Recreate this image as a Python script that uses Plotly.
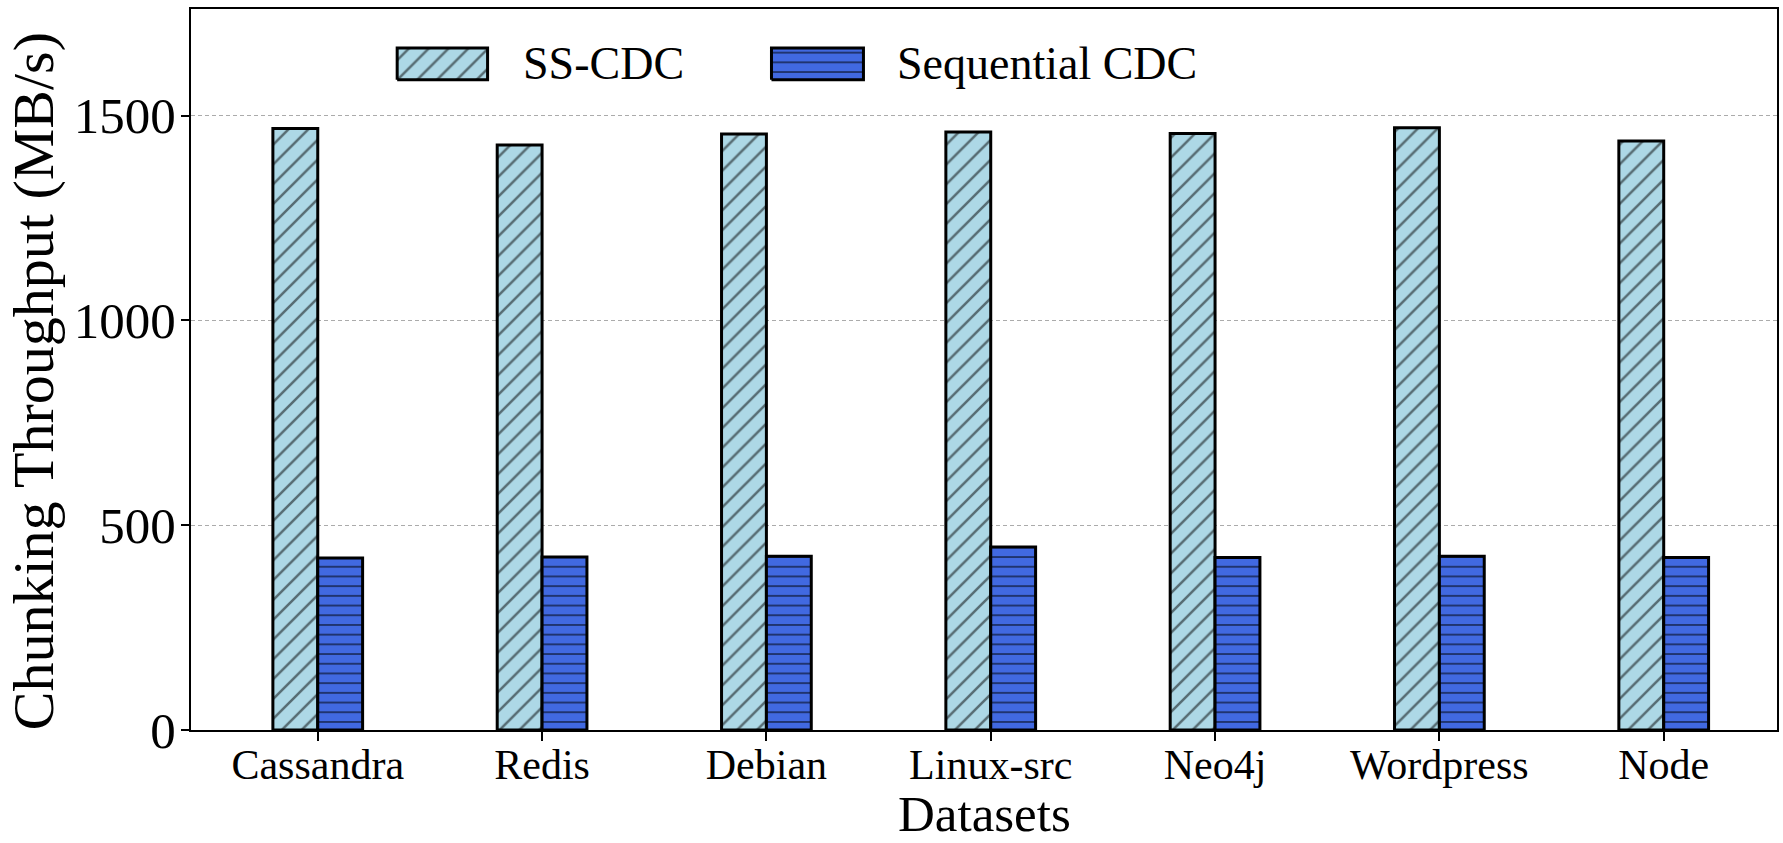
import plotly.graph_objects as go

# Chunking throughput per dataset (MB/s)
datasets = ["Cassandra", "Redis", "Debian", "Linux-src", "Neo4j", "Wordpress", "Node"]
ss_cdc = [1468, 1428, 1455, 1460, 1456, 1470, 1438]
seq_cdc = [420, 422, 424, 447, 421, 424, 421]
y_ticks = [0, 500, 1000, 1500]
series_names = ["SS-CDC", "Sequential CDC"]

FONT = "Liberation Serif"
LIGHT = "#ADD8E6"
ROYAL = "#4169E1"
SS_PATTERN = dict(shape="/", fgcolor="black", size=14, solidity=0.18)
SEQ_PATTERN = dict(shape="-", fgcolor="black", size=9.7, solidity=0.2)

fig = go.Figure()

fig.add_trace(go.Bar(
    x=datasets, y=ss_cdc, name=series_names[0],
    marker=dict(color=LIGHT, line=dict(color="black", width=3),
                pattern=dict(fillmode="overlay", **SS_PATTERN)),
    showlegend=False,
))
fig.add_trace(go.Bar(
    x=datasets, y=seq_cdc, name=series_names[1],
    marker=dict(color=ROYAL, line=dict(color="black", width=3),
                pattern=dict(fillmode="overlay", **SEQ_PATTERN)),
    showlegend=False,
))

# Legend swatches drawn on an overlay axis spanning the plot area (0..1)
def swatch(x0, x1, y0, y1, color, pattern):
    fig.add_trace(go.Scatter(
        x=[x0, x1, x1, x0, x0], y=[y0, y0, y1, y1, y0],
        xaxis="x2", yaxis="y2", mode="lines", fill="toself",
        fillcolor=color,
        fillpattern=dict(fillmode="overlay", **pattern),
        line=dict(color="black", width=3),
        hoverinfo="skip", showlegend=False,
    ))

swatch(0.130, 0.187, 0.902, 0.946, LIGHT, SS_PATTERN)
swatch(0.366, 0.424, 0.902, 0.946, ROYAL, SEQ_PATTERN)

for xpos, label in zip([0.208, 0.444], series_names):
    fig.add_annotation(
        x=xpos, y=0.924, xref="x2", yref="y2", text=label, showarrow=False,
        xanchor="left", yanchor="middle", font=dict(family=FONT, size=46, color="black"),
    )

# Axis titles
fig.add_annotation(
    x=0.5, y=-0.1567, xref="paper", yref="paper", yanchor="bottom", xanchor="center",
    text="Datasets", showarrow=False, borderpad=0,
    font=dict(family=FONT, size=51, color="black"),
)
fig.add_annotation(
    x=-0.0995, y=0.484, xref="paper", yref="paper", xanchor="center", yanchor="middle",
    text="Chunking Throughput (MB/s)", textangle=-90, showarrow=False,
    font=dict(family=FONT, size=58, color="black"),
)

fig.update_layout(
    width=1783, height=843,
    margin=dict(l=191, r=6, t=9, b=113),
    paper_bgcolor="white", plot_bgcolor="white",
    barmode="group", bargap=0.6, bargroupgap=0,
    showlegend=False,
    font=dict(family=FONT, color="black"),
    xaxis=dict(
        type="category", range=[-0.565, 6.505], automargin=False,
        showline=True, linecolor="black", linewidth=2, mirror=True,
        ticks="outside", ticklen=9, tickwidth=2, tickcolor="black",
        tickfont=dict(family=FONT, size=42), ticklabelstandoff=-12,
        showgrid=False,
    ),
    yaxis=dict(
        range=[0, 1760], tickvals=y_ticks, ticktext=[str(v) for v in y_ticks],
        automargin=False,
        showline=True, linecolor="black", linewidth=2, mirror=True,
        ticks="outside", ticklen=8, tickwidth=2, tickcolor="black",
        tickfont=dict(family=FONT, size=51), ticklabelstandoff=-5,
        showgrid=True, gridcolor="#ababab", gridwidth=1, griddash="4px,3px",
        zeroline=False,
    ),
    xaxis2=dict(domain=[0, 1], range=[0, 1], overlaying="x", anchor="y2",
                visible=False, fixedrange=True),
    yaxis2=dict(domain=[0, 1], range=[0, 1], overlaying="y", anchor="x2",
                visible=False, fixedrange=True),
)

fig.write_html("out.html")
